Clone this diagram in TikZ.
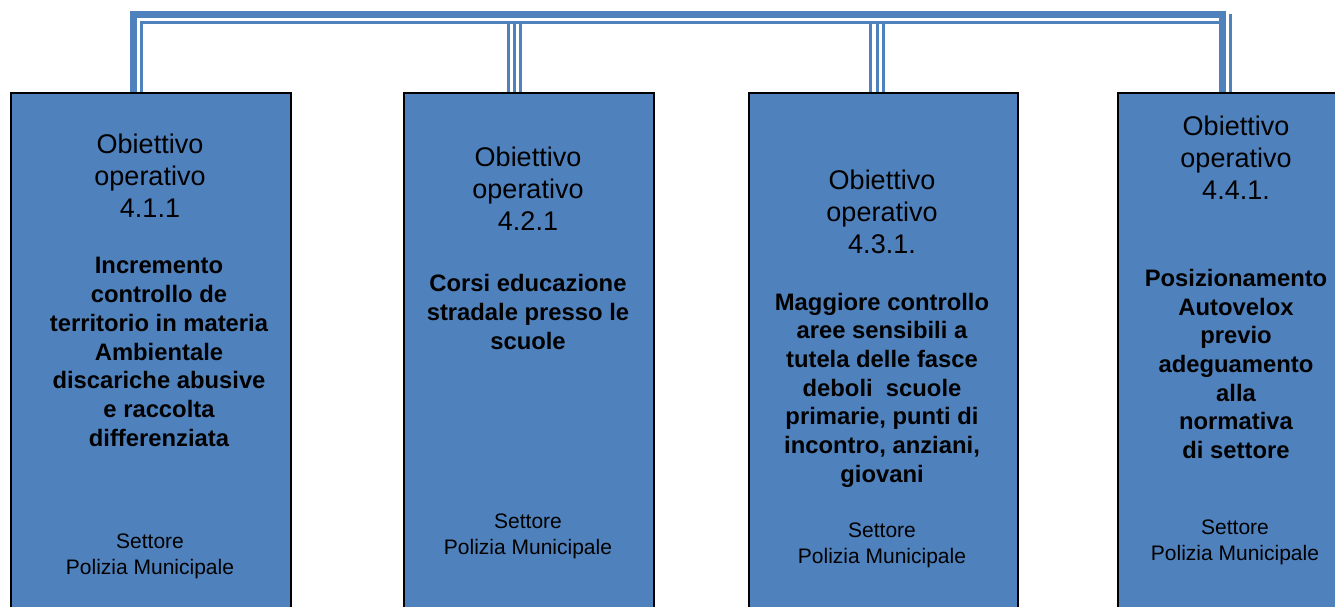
\documentclass[tikz,border=0pt]{standalone}
\usepackage{fontspec}
\setmainfont{Liberation Sans}
\usetikzlibrary{positioning,calc}
\definecolor{obblue}{HTML}{4F81BD}
\tikzset{
  ob/.style={rectangle, draw=black, line width=1.6pt, fill=obblue, anchor=north west},
  tit/.style={align=center, inner sep=0pt, font=\fontsize{27}{32}\selectfont},
  desc/.style={align=center, inner sep=0pt, font=\fontsize{23.8}{28.7}\selectfont\bfseries},
  sett/.style={align=center, inner sep=0pt, font=\fontsize{21}{26}\selectfont},
  busthick/.style={draw=obblue, line width=6.6pt},
  busthin/.style={draw=obblue, line width=2.6pt},
  busmid/.style={draw=obblue, line width=3.3pt}
}
\begin{document}
\begin{tikzpicture}[x=1pt, y=-1pt]
	\useasboundingbox (0,0) rectangle (1335,607);
	% boxes
	\node[ob, minimum width=280pt, minimum height=535pt] (ob1) at (10,92) {};
	\node[ob, minimum width=250pt, minimum height=535pt] (ob2) at (403,92) {};
	\node[ob, minimum width=269pt, minimum height=535pt] (ob3) at (748,92) {};
	\node[ob, minimum width=230pt, minimum height=535pt] (ob4) at (1117,92) {};
	% texts
	\node[tit] (t1) at (150,176) {Obiettivo\\operativo\\4.1.1};
	\node[desc] (d1) at (159,352) {Incremento\\controllo de\\territorio in materia\\Ambientale\\discariche abusive\\e raccolta\\differenziata};
	\node[sett] (s1) at (150,556) {Settore\\Polizia Municipale};
	\node[tit] (t2) at (528,189) {Obiettivo\\operativo\\4.2.1};
	\node[desc] (d2) at (528,312) {Corsi educazione\\stradale presso le\\scuole};
	\node[sett] (s2) at (528,536) {Settore\\Polizia Municipale};
	\node[tit] (t3) at (882,212) {Obiettivo\\operativo\\4.3.1.};
	\node[desc] (d3) at (882,390) {Maggiore controllo\\aree sensibili a\\tutela delle fasce\\deboli\ \ scuole\\primarie, punti di\\incontro, anziani,\\giovani};
	\node[sett] (s3) at (882,545) {Settore\\Polizia Municipale};
	\node[tit] (t4) at (1236,158) {Obiettivo\\operativo\\4.4.1.};
	\node[desc] (d4) at (1236,364) {Posizionamento\\Autovelox\\previo\\adeguamento\\alla\\normativa\\di settore};
	\node[sett] (s4) at (1235,542) {Settore\\Polizia Municipale};
	% connectors
	\coordinate (bus) at (0,14.3);
	\coordinate (busi) at (0,22.3);
	\coordinate (c1) at ($(ob1.north west)+(123.5,0)$);
	\coordinate (c1i) at ($(ob1.north west)+(131.3,0)$);
	\coordinate (c4) at ($(ob4.north west)+(105.5,0)$);
	\coordinate (c4i) at ($(ob4.north west)+(113.2,0)$);
	\coordinate (c4e) at ($(ob4.north west)+(102.5,0)$);
	\draw[busthick] (c1) -- (c1 |- bus) -- (c4 |- bus) -- (c4);
	\draw[busthin] (c1i) -- (c1i |- busi) -- (c4e |- busi);
	\draw[busthin] (c4i) -- (c4i |- bus);
	\foreach \b/\dx in {ob2/105.3, ob2/111.7, ob2/117.8, ob3/122.8, ob3/129.5, ob3/135.5}
		\draw[busmid] ($(\b.north west)+(\dx,0)$) coordinate (p) -- (p |- busi);
\end{tikzpicture}
\end{document}
